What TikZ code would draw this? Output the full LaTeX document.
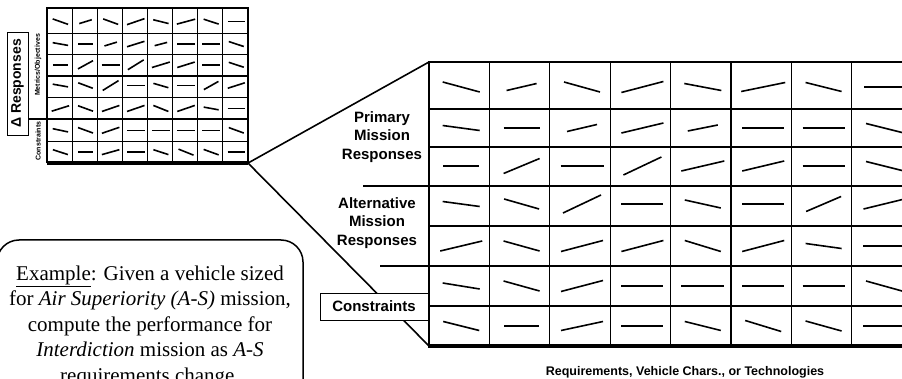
\documentclass[tikz,border=0pt]{standalone}
\usepackage{fontspec}
\setmainfont{Liberation Serif}
\setsansfont{Liberation Sans}
\usetikzlibrary{positioning}
\tikzset{
  cellline/.style={line width=1.1pt, draw=black},
  frameline/.style={line width=1.8pt, draw=black},
  axisline/.style={line width=3.2pt, draw=black},
  groupline/.style={line width=2pt, draw=black},
  trend/.style={line width=1.6pt, draw=black},
  link/.style={line width=1.6pt, draw=black},
  lbl/.style={align=center, inner sep=0pt, font=\fontsize{15}{18.5}\selectfont\sffamily\bfseries},
  tagbox/.style={rectangle, draw, line width=0.9pt, fill=white, inner sep=2pt,
                 font=\fontsize{15}{18}\selectfont\sffamily\bfseries},
  tinylbl/.style={rotate=90, inner sep=0pt, font=\fontsize{7}{8}\selectfont\sffamily\bfseries},
  notebox/.style={rectangle, rounded corners=22pt, draw, line width=1.5pt, align=center,
                  font=\fontsize{21}{25.5}\selectfont},
}
% one row of response trends: centre y, then width/rise per cell
\newcommand{\trendrow}[2]{%
  \foreach \w/\h [count=\c] in {#2}
    \draw[trend] ({(\c-0.5)*60.4+2-\w/2},{#1+\h/2}) -- ++(\w,-\h);}
% the response matrix in its own (large) units
\newcommand{\responsegrid}{%
  \foreach \x in {1,...,7} \draw[cellline] ({\x*60.4},0) -- ({\x*60.4},284);
  \foreach \y in {47,85,164,244} \draw[cellline] (0,\y) -- (483.2,\y);
  \foreach \y in {124,204} \draw[groupline] (0,\y) -- (483.2,\y);
  \draw[frameline] (0,284) -- (0,0) -- (483.2,0) -- (483.2,284);
  \draw[axisline] (-0.8,284) -- (484,284);
  \trendrow{25}{37/-10, 30/7, 36/-10, 42/11, 37/-7, 44/9, 36/-9, 40/0}
  \trendrow{66}{37/-5, 36/0, 30/7, 42/10, 30/6, 42/0, 42/0, 36/-9}
  \trendrow{104}{36/0, 36/15, 43/0, 38/18, 43/10, 42/10, 42/0, 36/-9}
  \trendrow{142}{37/-5, 35/-10, 38/18, 42/0, 36/-8, 42/0, 35/15, 41/10}
  \trendrow{184}{42/10, 36/-10, 42/11, 42/11, 36/-11, 42/11, 36/-5, 42/0}
  \trendrow{224}{37/-6, 36/-10, 42/11, 42/0, 43/0, 42/0, 42/0, 36/-10}
  \trendrow{264}{36/-9, 35/0, 42/9, 42/0, 36/-9, 36/-11, 36/-10, 42/0}
}

\begin{document}
\begin{tikzpicture}[x=1pt, y=-1pt]
  \useasboundingbox (0,0) rectangle (902,379);
  \clip (0,0) rectangle (902,379);

  % small matrix
  \begin{scope}[shift={(47,8)}, xscale=0.416, yscale=0.546]
    \responsegrid
    \coordinate (smallSE) at (483.2,284);
    \coordinate (smallB) at (0,204);
  \end{scope}
  \node[tagbox, rotate=90, line width=0.6pt, minimum width=103pt, minimum height=21pt,
        font=\fontsize{14}{16}\selectfont\sffamily\bfseries] (dresp) at (17.5,83.5) {Δ Responses};
  \node[tinylbl] (metrics) at (38,65) {Metrics/Objectives};
  \node[tinylbl] (smallcons) at (38,141) {Constraints};
  \draw[groupline] (dresp.south |- smallB) -- (smallB);

  % large matrix
  \begin{scope}[shift={(429,62)}]
    \responsegrid
    \coordinate (bigNW) at (0,0);
    \coordinate (bigSW) at (0,284);
    \coordinate (bigA) at (0,124);
    \coordinate (bigB) at (0,204);
  \end{scope}
  \coordinate (sepA) at (363,186);
  \coordinate (sepB) at (380,266);
  \draw[groupline] (sepA) -- (bigA);
  \draw[groupline] (sepB) -- (bigB);

  % zoom lines
  \draw[link] (smallSE) -- (bigNW);
  \draw[link] (smallSE) -- (bigSW);

  \node[lbl] (primary) at (382,137) {Primary\\Mission\\Responses};
  \node[lbl] (altern) at (377,223) {Alternative\\Mission\\Responses};
  \node[tagbox, minimum width=108pt, minimum height=27pt] (cons) at (374,306.5) {Constraints};
  \node[font=\fontsize{12.5}{14}\selectfont\sffamily\bfseries] (xaxis) at (685,372)
    {Requirements, Vehicle Chars., or Technologies};

  \node[notebox, minimum width=306pt, minimum height=172pt] (note) at (150,326)
    {\underline{Example}: Given a vehicle sized\\
     for \textit{Air Superiority (A-S)} mission,\\
     compute the performance for\\
     \textit{Interdiction} mission as \textit{A-S}\\
     requirements change.};
\end{tikzpicture}
\end{document}
